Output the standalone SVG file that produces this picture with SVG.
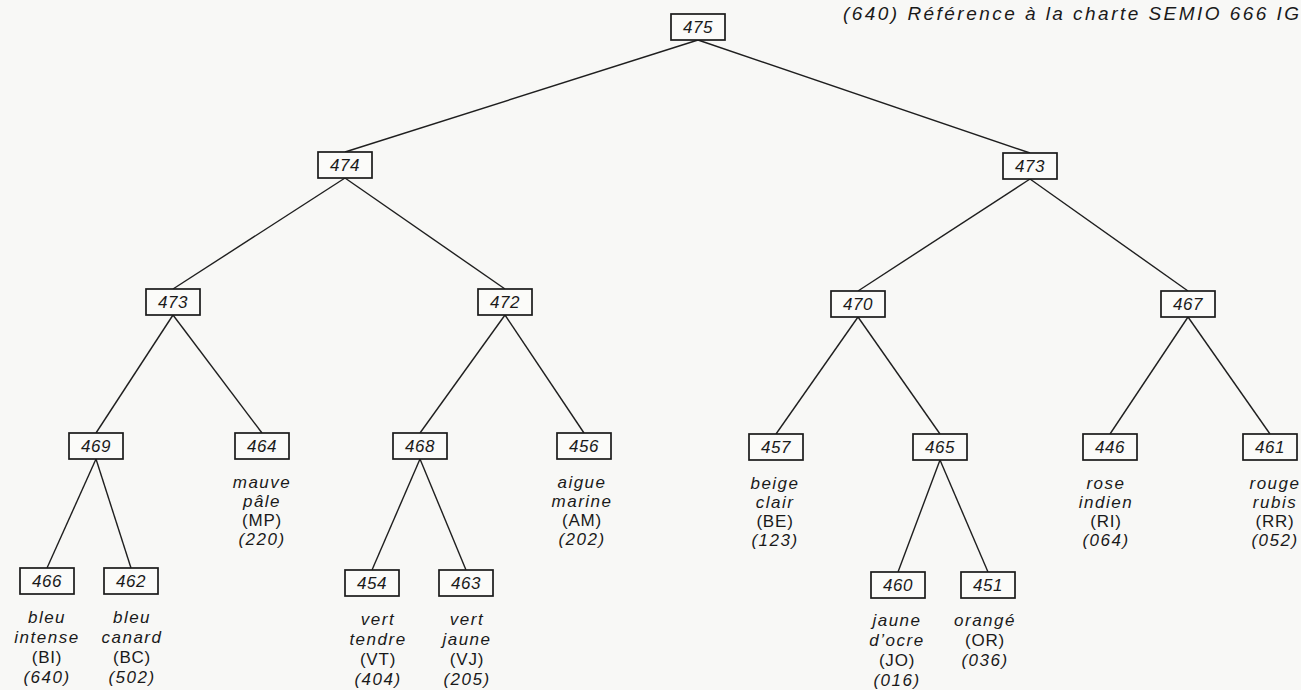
<svg xmlns="http://www.w3.org/2000/svg" width="1301" height="690" viewBox="0 0 1301 690">
<style>
.bg{fill:#f8f8f6}
.box{fill:#fbfbf9;stroke:#1a1a1a;stroke-width:1.7}
.num{font-family:"Liberation Sans",Arial,sans-serif;font-style:italic;font-size:17px;fill:#1a1a1a;text-anchor:middle;letter-spacing:0.6px}
.lbl{font-family:"Liberation Sans",Arial,sans-serif;font-style:italic;font-size:17px;fill:#1a1a1a;text-anchor:middle;letter-spacing:1.5px}
.abbr{font-family:"Liberation Sans",Arial,sans-serif;font-size:17px;fill:#1a1a1a;text-anchor:middle;letter-spacing:0.8px}
.title{font-family:"Liberation Sans",Arial,sans-serif;font-style:italic;font-size:19px;fill:#1a1a1a}
.edge{stroke:#1f1f1f;stroke-width:1.4;fill:none}
</style>
<rect class="bg" x="0" y="0" width="1301" height="690"/>
<text class="title" x="843" y="20" textLength="456" lengthAdjust="spacing">(640) Référence à la charte SEMIO 666 IG</text>
<g id="connectors">
<line class="edge" x1="698" y1="40" x2="345" y2="152"/>
<line class="edge" x1="698" y1="40" x2="1030" y2="153"/>
<line class="edge" x1="345" y1="178" x2="173" y2="289"/>
<line class="edge" x1="345" y1="178" x2="505" y2="289"/>
<line class="edge" x1="1030" y1="179" x2="858" y2="291"/>
<line class="edge" x1="1030" y1="179" x2="1188" y2="291"/>
<line class="edge" x1="173" y1="315" x2="96" y2="433"/>
<line class="edge" x1="173" y1="315" x2="262" y2="433"/>
<line class="edge" x1="505" y1="315" x2="420" y2="433"/>
<line class="edge" x1="505" y1="315" x2="584" y2="433"/>
<line class="edge" x1="858" y1="317" x2="776" y2="434"/>
<line class="edge" x1="858" y1="317" x2="940" y2="434"/>
<line class="edge" x1="1188" y1="317" x2="1110" y2="434"/>
<line class="edge" x1="1188" y1="317" x2="1270" y2="434"/>
<line class="edge" x1="96" y1="459" x2="47" y2="568"/>
<line class="edge" x1="96" y1="459" x2="131" y2="568"/>
<line class="edge" x1="420" y1="459" x2="372" y2="570"/>
<line class="edge" x1="420" y1="459" x2="466" y2="570"/>
<line class="edge" x1="940" y1="460" x2="898" y2="572"/>
<line class="edge" x1="940" y1="460" x2="988" y2="572"/>
</g>
<g id="n475"><rect class="box" x="671" y="14" width="54" height="26"/><text class="num" x="698" y="33">475</text></g>
<g id="n474"><rect class="box" x="318" y="152" width="54" height="26"/><text class="num" x="345" y="171">474</text></g>
<g id="n473b"><rect class="box" x="1003" y="153" width="54" height="26"/><text class="num" x="1030" y="172">473</text></g>
<g id="n473a"><rect class="box" x="146" y="289" width="54" height="26"/><text class="num" x="173" y="308">473</text></g>
<g id="n472"><rect class="box" x="478" y="289" width="54" height="26"/><text class="num" x="505" y="308">472</text></g>
<g id="n470"><rect class="box" x="831" y="291" width="54" height="26"/><text class="num" x="858" y="310">470</text></g>
<g id="n467"><rect class="box" x="1161" y="291" width="54" height="26"/><text class="num" x="1188" y="310">467</text></g>
<g id="n469"><rect class="box" x="69" y="433" width="54" height="26"/><text class="num" x="96" y="452">469</text></g>
<g id="n464"><rect class="box" x="235" y="433" width="54" height="26"/><text class="num" x="262" y="452">464</text>
<text class="lbl" x="262" y="488">mauve</text><text class="lbl" x="262" y="507">pâle</text><text class="abbr" x="262" y="526">(MP)</text><text class="lbl" x="262" y="545">(220)</text></g>
<g id="n468"><rect class="box" x="393" y="433" width="54" height="26"/><text class="num" x="420" y="452">468</text></g>
<g id="n456"><rect class="box" x="557" y="433" width="54" height="26"/><text class="num" x="584" y="452">456</text>
<text class="lbl" x="582" y="488">aigue</text><text class="lbl" x="582" y="507">marine</text><text class="abbr" x="582" y="526">(AM)</text><text class="lbl" x="582" y="545">(202)</text></g>
<g id="n457"><rect class="box" x="749" y="434" width="54" height="26"/><text class="num" x="776" y="453">457</text>
<text class="lbl" x="775" y="489">beige</text><text class="lbl" x="775" y="508">clair</text><text class="abbr" x="775" y="527">(BE)</text><text class="lbl" x="775" y="546">(123)</text></g>
<g id="n465"><rect class="box" x="913" y="434" width="54" height="26"/><text class="num" x="940" y="453">465</text></g>
<g id="n446"><rect class="box" x="1083" y="434" width="54" height="26"/><text class="num" x="1110" y="453">446</text>
<text class="lbl" x="1106" y="489">rose</text><text class="lbl" x="1106" y="508">indien</text><text class="abbr" x="1106" y="527">(RI)</text><text class="lbl" x="1106" y="546">(064)</text></g>
<g id="n461"><rect class="box" x="1243" y="434" width="54" height="26"/><text class="num" x="1270" y="453">461</text>
<text class="lbl" x="1275" y="489">rouge</text><text class="lbl" x="1275" y="508">rubis</text><text class="abbr" x="1275" y="527">(RR)</text><text class="lbl" x="1275" y="546">(052)</text></g>
<g id="n466"><rect class="box" x="20" y="568" width="54" height="26"/><text class="num" x="47" y="587">466</text>
<text class="lbl" x="47" y="623">bleu</text><text class="lbl" x="47" y="643">intense</text><text class="abbr" x="47" y="663">(BI)</text><text class="lbl" x="47" y="683">(640)</text></g>
<g id="n462"><rect class="box" x="104" y="568" width="54" height="26"/><text class="num" x="131" y="587">462</text>
<text class="lbl" x="132" y="623">bleu</text><text class="lbl" x="132" y="643">canard</text><text class="abbr" x="132" y="663">(BC)</text><text class="lbl" x="132" y="683">(502)</text></g>
<g id="n454"><rect class="box" x="345" y="570" width="54" height="26"/><text class="num" x="372" y="589">454</text>
<text class="lbl" x="378" y="625">vert</text><text class="lbl" x="378" y="645">tendre</text><text class="abbr" x="378" y="665">(VT)</text><text class="lbl" x="378" y="685">(404)</text></g>
<g id="n463"><rect class="box" x="439" y="570" width="54" height="26"/><text class="num" x="466" y="589">463</text>
<text class="lbl" x="467" y="625">vert</text><text class="lbl" x="467" y="645">jaune</text><text class="abbr" x="467" y="665">(VJ)</text><text class="lbl" x="467" y="685">(205)</text></g>
<g id="n460"><rect class="box" x="871" y="572" width="54" height="26"/><text class="num" x="898" y="591">460</text>
<text class="lbl" x="897" y="626">jaune</text><text class="lbl" x="897" y="646">d’ocre</text><text class="abbr" x="897" y="666">(JO)</text><text class="lbl" x="897" y="686">(016)</text></g>
<g id="n451"><rect class="box" x="961" y="572" width="54" height="26"/><text class="num" x="988" y="591">451</text>
<text class="lbl" x="985" y="626">orangé</text><text class="abbr" x="985" y="646">(OR)</text><text class="lbl" x="985" y="666">(036)</text></g>
</svg>
